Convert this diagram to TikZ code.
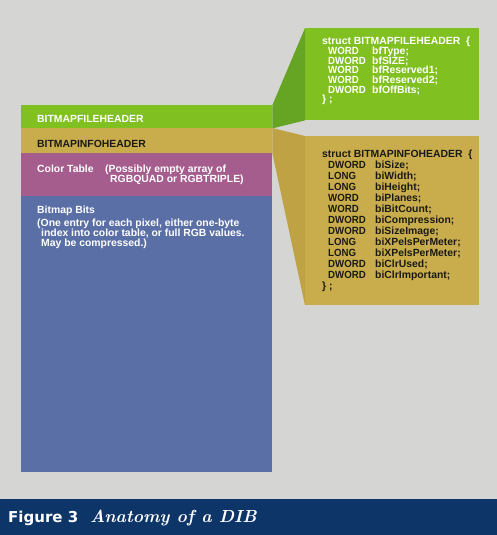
\documentclass[tikz,border=0pt]{standalone}
\usepackage{graphicx}
\usepackage{fontspec}
\newfontfamily\arialf{Liberation Sans}
\newfontfamily\dejavuf{DejaVu Sans}
\newcommand\typkw[2]{\makebox[#1][l]{\scalebox{0.93}[1]{#2}}}
\definecolor{bgc}{HTML}{D5D5D3}
\definecolor{lime}{HTML}{80C121}
\definecolor{limedark}{HTML}{66A423}
\definecolor{khaki}{HTML}{C9AD4C}
\definecolor{khakidark}{HTML}{BFA244}
\definecolor{mauve}{HTML}{A45D8D}
\definecolor{slate}{HTML}{5B6FA7}
\definecolor{navy}{HTML}{0E3568}
\definecolor{ink}{HTML}{1A1A14}
\begin{document}
\begin{tikzpicture}[x=1pt,y=-1pt,
  band/.style={draw=none,inner sep=0pt,anchor=north west,minimum width=251pt},
  sbox/.style={draw=none,inner sep=0pt,anchor=north west,minimum width=174pt},
  lbl/.style={inner sep=0pt,anchor=base west,font=\arialf\bfseries\fontsize{10.4}{11}\selectfont},
  wl/.style={lbl,text=white},
  bl/.style={lbl,text=ink}]
\useasboundingbox (0,0) rectangle (497,535);
\fill[bgc] (0,0) rectangle (497,535);
% column
\node[band,fill=lime,minimum height=23pt] (fh) at (21,105) {};
\node[band,fill=khaki,minimum height=25pt] (ih) at (21,128) {};
\node[band,fill=mauve,minimum height=43pt] (ct) at (21,153) {};
\node[band,fill=slate,minimum height=276pt] (bb) at (21,196) {};
% struct boxes
\node[sbox,fill=lime,minimum height=92pt] (gbox) at (305,28) {};
\node[sbox,fill=khaki,minimum height=169pt] (kbox) at (305,136) {};
% wedges
\fill[limedark] (fh.north east) -- (gbox.north west) -- (gbox.south west) -- (fh.south east) -- cycle;
\fill[khakidark] (ih.north east) -- (kbox.north west) -- (kbox.south west) -- (ih.south east) -- cycle;
% column labels
\node[wl] (t1) at (37,122) {BITMAPFILEHEADER};
\node[bl] (t2) at (37,147) {BITMAPINFOHEADER};
\node[wl] (t3) at (37,172) {Color Table};
\node[wl] (t4) at (105,172) {(Possibly empty array of};
\node[wl] (t5) at (110,182.5) {RGBQUAD or RGBTRIPLE)};
\node[wl] (t6) at (37,213) {Bitmap Bits};
\node[wl] (t7) at (37,226) {(One entry for each pixel, either one-byte};
\node[wl] (t8) at (41,236) {index into color table, or full RGB values.};
\node[wl] (t9) at (41,246) {May be compressed.)};
% file header struct
\node[wl] (g0) at (322,45) {struct BITMAPFILEHEADER \ \{};
\node[wl] (g1) at (328,55) {\typkw{44pt}{WORD}bfType;};
\node[wl] (g2) at (328,64.5) {\typkw{44pt}{DWORD}bfSIZE;};
\node[wl] (g3) at (328,74) {\typkw{44pt}{WORD}bfReserved1;};
\node[wl] (g4) at (328,83.5) {\typkw{44pt}{WORD}bfReserved2;};
\node[wl] (g5) at (328,93) {\typkw{44pt}{DWORD}bfOffBits;};
\node[wl] (g6) at (322,102.5) {\} ;};
% info header struct
\node[bl] (k0) at (322,157) {struct BITMAPINFOHEADER \ \{};
\node[bl] (k1) at (328,168) {\typkw{47pt}{DWORD}biSize;};
\node[bl] (k2) at (328,179) {\typkw{47pt}{LONG}biWidth;};
\node[bl] (k3) at (328,190) {\typkw{47pt}{LONG}biHeight;};
\node[bl] (k4) at (328,201) {\typkw{47pt}{WORD}biPlanes;};
\node[bl] (k5) at (328,212) {\typkw{47pt}{WORD}biBitCount;};
\node[bl] (k6) at (328,223) {\typkw{47pt}{DWORD}biCompression;};
\node[bl] (k7) at (328,234) {\typkw{47pt}{DWORD}biSizeImage;};
\node[bl] (k8) at (328,245) {\typkw{47pt}{LONG}biXPelsPerMeter;};
\node[bl] (k9) at (328,256) {\typkw{47pt}{LONG}biXPelsPerMeter;};
\node[bl] (k10) at (328,267) {\typkw{47pt}{DWORD}biClrUsed;};
\node[bl] (k11) at (328,278) {\typkw{47pt}{DWORD}biClrImportant;};
\node[bl] (k12) at (322,289) {\} ;};
% caption bar
\node[draw=none,fill=navy,inner sep=0pt,anchor=north west,minimum width=497pt,minimum height=36pt] (bar) at (0,499) {};
\node[inner sep=0pt,anchor=base west,text=white,font=\dejavuf\bfseries\fontsize{15}{16}\selectfont] (fig) at (8,522) {Figure 3};
\node[inner sep=0pt,anchor=base west,text=white,font=\bfseries\itshape\fontsize{17.5}{19}\selectfont] (cap) at (90,522) {Anatomy of a DIB};
\end{tikzpicture}
\end{document}
